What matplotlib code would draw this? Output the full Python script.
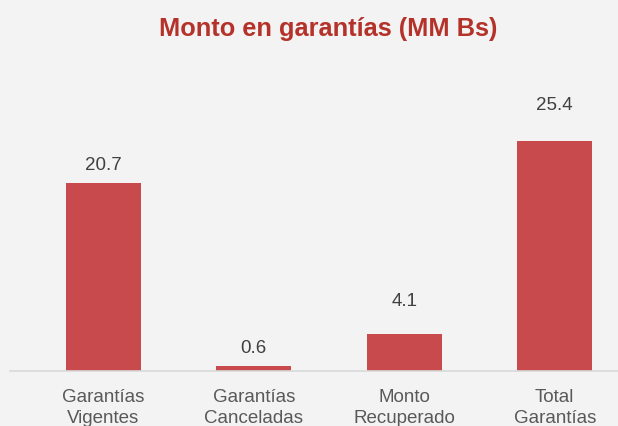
# Import Libraries
import matplotlib.pyplot as plt

# Data
categorias = ['Garantías\nVigentes', 'Garantías\nCanceladas', 'Monto\nRecuperado', 'Total\nGarantías']
montos = [20.7, 0.6, 4.1, 25.4]

# Label offsets above the bars (points)
desplaz = [7, 6, 17, 19]

plt.rcParams['font.family'] = ['Liberation Sans', 'DejaVu Sans']

fondo = '#f2f3f2'
fig = plt.figure(figsize=(6.18, 4.26), dpi=100, facecolor=fondo)
ax = fig.add_axes([10/618, 55/426, 608/618, 291/426], facecolor=fondo)

x = range(len(montos))
ax.bar(x, montos, width=0.5, color='#c84a4c', zorder=2)

# Value labels
for xi, v, d in zip(x, montos, desplaz):
    ax.annotate(f'{v:.1f}', (xi, v), xytext=(0, d), textcoords='offset points',
                ha='center', va='bottom', fontsize=13.5, color='#404040')

ax.set_xlim(-0.62, 3.42)
ax.set_ylim(0, 32.1)
ax.set_xticks(list(x))
ax.set_xticklabels(categorias, fontsize=13.5, color='#595959', linespacing=1.3)
ax.tick_params(axis='x', length=0, pad=13)
ax.set_yticks([])
for s in ['top', 'right', 'left']:
    ax.spines[s].set_visible(False)
ax.spines['bottom'].set_color('#d9d9d9')
ax.spines['bottom'].set_linewidth(1.2)

fig.text(328/618, 1 - 29/426, 'Monto en garantías (MM Bs)', ha='center', va='center',
         fontsize=18.3, fontweight='bold', color='#b5322a')

fig.savefig('out.png', dpi=100, facecolor=fondo)
